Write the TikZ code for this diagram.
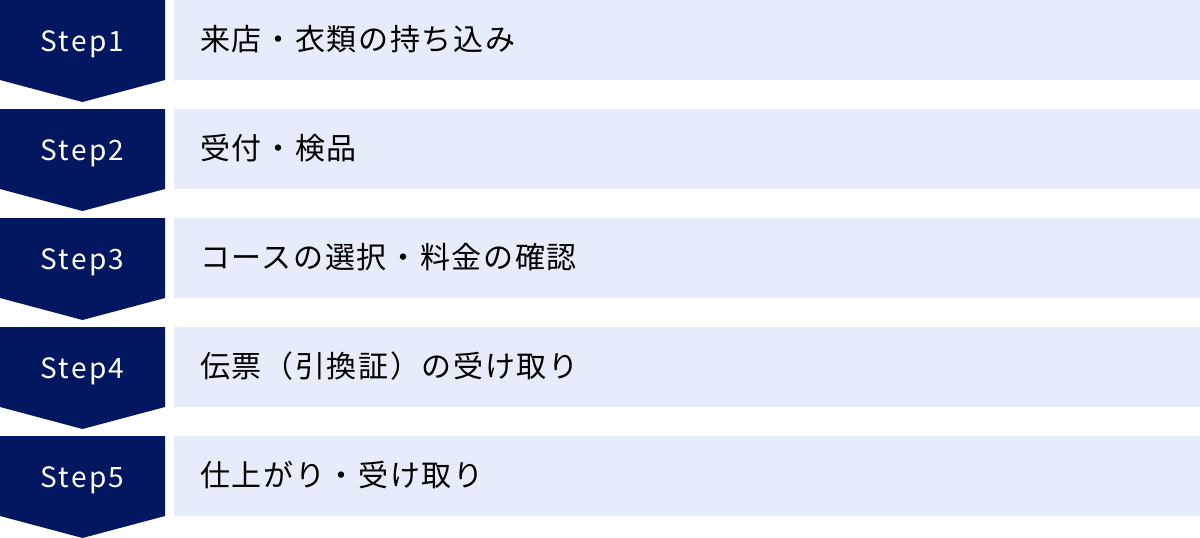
\documentclass[tikz,border=0pt]{standalone}
\usepackage{fontspec}
\newfontfamily\stepfont[LetterSpace=8]{Noto Sans CJK JP}
\newfontfamily\jpfont[LetterSpace=5.5]{Noto Sans CJK JP}
\definecolor{stepnavy}{RGB}{3,23,96}
\definecolor{steplight}{RGB}{230,236,249}
\begin{document}
\begin{tikzpicture}[x=1pt,y=-1pt,
                    step label/.style={anchor=base,text=white,inner sep=0pt,font=\stepfont\fontsize{28}{34}\selectfont},
                    task label/.style={anchor=base west,inner sep=0pt,font=\jpfont\fontsize{30}{36}\selectfont}]

        \useasboundingbox (0,0) rectangle (1200,538);

        % Define rows
        \foreach \n/\task in {1/来店・衣類の持ち込み,
                              2/受付・検品,
                              3/コースの選択・料金の確認,
                              4/伝票（引換証）の受け取り,
                              5/仕上がり・受け取り} {
            \pgfmathsetmacro\rowtop{(\n-1)*109}
            \fill[stepnavy] (0,\rowtop) -- ++(165,0) -- ++(0,80) -- ++(-82.5,22) -- ++(-82.5,-22) -- cycle;
            \fill[steplight] (174,\rowtop) rectangle ++(1026,80);
            \node[step label] (step\n) at (82.5,\rowtop+51.5) {Step\n};
            \node[task label] (task\n) at (200,\rowtop+50.5) {\task};
        }

        \end{tikzpicture}
\end{document}
